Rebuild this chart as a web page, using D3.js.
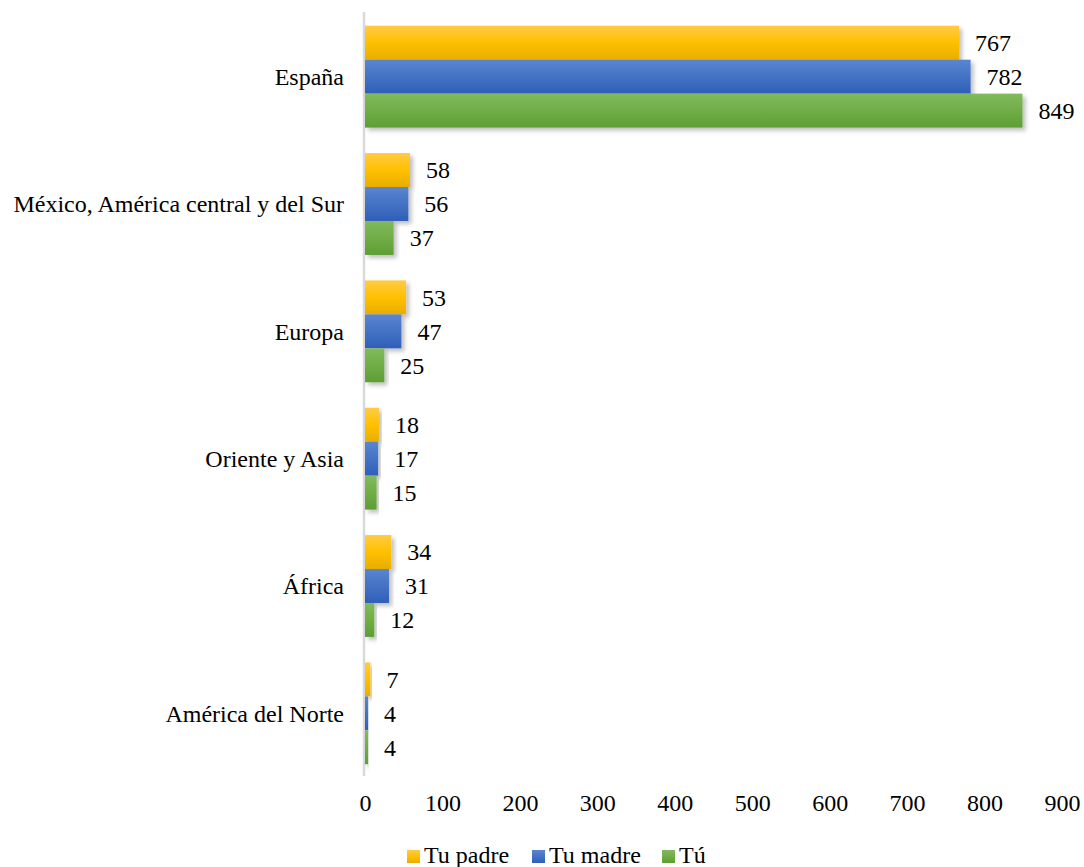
<!DOCTYPE html>
<html><head><meta charset="utf-8">
<script src="https://cdn.jsdelivr.net/npm/d3@7"></script>
<style>body{margin:0;background:#fff}svg{display:block}</style>
</head><body>
<script>
const categories = ["España","México, América central y del Sur","Europa","Oriente y Asia","África","América del Norte"];
const seriesNames = ["Tu padre","Tu madre","Tú"];
const padre = [767,58,53,18,34,7];
const madre = [782,56,47,17,31,4];
const tu = [849,37,25,15,12,4];
const xTicks = [0,100,200,300,400,500,600,700,800,900];
const seriesValues = [padre, madre, tu];
const colors = [
  {top:"#ffcb45", mid:"#ffc000", bot:"#e8ae00"},
  {top:"#5a85d0", mid:"#4472c4", bot:"#2f5fb8"},
  {top:"#82ba5e", mid:"#70ad47", bot:"#5e9e34"}
];

const W=1084,H=867;
const svg=d3.select("body").append("svg").attr("width",W).attr("height",H);
const defs=svg.append("defs");
colors.forEach((c,i)=>{
  const g=defs.append("linearGradient").attr("id","g"+i).attr("x1",0).attr("x2",0).attr("y1",0).attr("y2",1);
  g.append("stop").attr("offset","0%").attr("stop-color",c.top);
  g.append("stop").attr("offset","50%").attr("stop-color",c.mid);
  g.append("stop").attr("offset","100%").attr("stop-color",c.bot);
});
const f=defs.append("filter").attr("id","sh").attr("x","-10%").attr("y","-20%").attr("width","130%").attr("height","160%");
f.append("feDropShadow").attr("dx",3).attr("dy",3).attr("stdDeviation",2).attr("flood-color","#000").attr("flood-opacity",0.25);

const x=d3.scaleLinear().domain([0,900]).range([365,1062]);
const y0=d3.scaleBand().domain(categories).range([13,777]).paddingInner(0.2).paddingOuter(0.1);
const y1=d3.scaleBand().domain(seriesNames).range([0,y0.bandwidth()]);

const FF="Liberation Serif";
const fs="24px";
function tx(sel){ return sel.style("font-family",FF).style("font-size",fs).attr("fill","#000"); }

svg.append("line").attr("x1",364).attr("x2",364).attr("y1",12).attr("y2",776)
  .attr("stroke","#d9d9d9").attr("stroke-width",2.5);

const groups=svg.selectAll("g.cat").data(categories).join("g").attr("class","cat")
  .attr("transform",d=>`translate(0,${y0(d)})`);

seriesNames.forEach((s,si)=>{
  groups.append("rect")
    .attr("x",x(0))
    .attr("y",y1(s))
    .attr("width",(d,ci)=>Math.max(0.5,x(seriesValues[si][ci])-x(0)))
    .attr("height",y1.bandwidth())
    .attr("fill",`url(#g${si})`)
    .attr("filter","url(#sh)");
});
seriesNames.forEach((s,si)=>{
  tx(groups.append("text")
    .attr("x",(d,ci)=>x(seriesValues[si][ci])+16)
    .attr("y",y1(s)+y1.bandwidth()/2)
    .attr("dy","0.35em"))
    .text((d,ci)=>seriesValues[si][ci]);
});

tx(svg.append("g").selectAll("text").data(categories).join("text")
  .attr("x",344).attr("y",d=>y0(d)+y0.bandwidth()/2).attr("dy","0.35em")
  .attr("text-anchor","end"))
  .text(d=>d);

const ax=svg.append("g").attr("transform","translate(0,790)")
  .call(d3.axisBottom(x).tickValues(xTicks).tickSize(0).tickPadding(4));
ax.select(".domain").remove();
tx(ax.selectAll("text"));

const leg=[{x:407},{x:532},{x:662}];
const lg=svg.append("g");
seriesNames.forEach((s,i)=>{
  lg.append("rect").attr("x",leg[i].x).attr("y",850).attr("width",13).attr("height",13).attr("fill",`url(#g${i})`);
  tx(lg.append("text").attr("x",leg[i].x+17).attr("y",863)).text(s);
});
</script>
</body></html>
